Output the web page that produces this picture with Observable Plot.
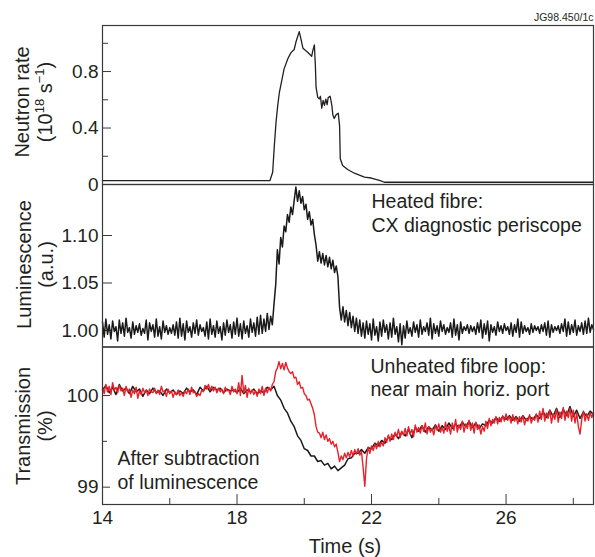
<!DOCTYPE html>
<html><head><meta charset="utf-8">
<script src="https://cdn.jsdelivr.net/npm/d3@7"></script>
<script src="https://cdn.jsdelivr.net/npm/@observablehq/plot@0.6"></script>
<style>
body{margin:0;background:#fff;}
#chart{position:relative;width:595px;height:557px;font-family:"Liberation Sans",Arial,sans-serif;}
#chart svg{position:absolute;left:0;overflow:visible;}
</style></head><body><div id="chart"></div>
<script>
// ---------- DATA ----------
const figId = "JG98.450/1c";
const timeDomain = [14, 28.6];
const timeMajorTicks = [14, 18, 22, 26];
const timeMinorTicks = [16, 20, 24, 28];
const timeTitle = "Time (s)";

// Panel 1: neutron rate (10^18 s^-1)
const neutronTime = [14.0, 18.98, 19.06, 19.11, 19.16, 19.21, 19.26, 19.33, 19.40, 19.51, 19.60, 19.70, 19.75, 19.85, 19.90, 19.96, 20.10, 20.22, 20.25, 20.30, 20.33, 20.35, 20.40, 20.45, 20.48, 20.52, 20.56, 20.60, 20.64, 20.68, 20.71, 20.77, 20.82, 20.85, 20.89, 20.95, 21.01, 21.05, 21.07, 21.14, 21.29, 21.49, 21.79, 21.99, 22.26, 22.38, 28.6];
const neutronRate = [0.028, 0.028, 0.087, 0.276, 0.441, 0.559, 0.653, 0.736, 0.819, 0.890, 0.932, 0.956, 1.007, 1.083, 1.031, 0.965, 0.937, 0.908, 0.945, 0.989, 0.842, 0.689, 0.617, 0.606, 0.625, 0.540, 0.595, 0.560, 0.605, 0.565, 0.615, 0.625, 0.560, 0.492, 0.468, 0.495, 0.505, 0.415, 0.182, 0.135, 0.106, 0.080, 0.052, 0.046, 0.028, 0.016, 0.016];
const neutronTicks = [0, 0.4, 0.8];
const neutronTickLabels = ["0", "0.4", "0.8"];
const neutronMinor = [0.2, 0.6, 1.0];
const neutronDomain = [0, 1.126];

// Panel 2: luminescence (a.u.), sampled every 0.05 s from 14.00 s
const lumStart = 14, lumStep = 0.05;
const luminescence = [
1.009,0.993,1.012,0.996,1.006,0.991,1.010,0.999,1.004,0.989,
1.011,0.997,1.008,0.994,1.013,0.998,1.003,0.992,1.009,0.996,
1.005,0.998,1.007,0.995,1.002,0.997,1.011,0.990,1.008,0.999,
1.006,0.993,1.012,0.994,1.004,0.991,1.010,0.998,1.005,0.996,
1.003,0.997,1.006,0.995,1.009,0.992,1.013,0.994,1.007,0.990,
1.010,0.998,1.004,0.993,1.008,0.997,1.011,0.995,1.006,0.999,
1.003,0.994,1.009,0.991,1.012,0.996,1.005,0.993,1.010,0.997,
1.004,0.990,1.008,0.995,1.011,0.998,1.006,0.992,1.009,0.996,
1.013,0.994,1.007,0.991,1.010,0.997,1.005,0.993,1.012,0.998,
1.008,0.994,1.014,0.996,1.016,0.997,1.012,0.999,1.018,1.001,
1.015,1.006,1.028,1.048,1.085,1.070,1.098,1.088,1.110,1.104,
1.122,1.114,1.130,1.122,1.137,1.151,1.136,1.147,1.134,1.141,
1.127,1.133,1.117,1.125,1.111,1.117,1.101,1.090,1.073,1.083,
1.071,1.081,1.069,1.079,1.067,1.077,1.065,1.074,1.061,1.068,
1.057,1.024,1.011,1.025,1.009,1.021,1.005,1.019,1.003,1.015,
0.999,1.013,0.997,1.011,0.994,1.008,
0.992,1.010,0.996,1.007,0.990,1.012,0.995,1.004,0.989,1.009,
0.994,1.011,0.998,1.006,0.991,1.008,0.993,1.013,0.996,1.004,
0.988,1.007,0.985,1.005,0.992,1.010,0.997,1.003,0.994,1.009,
0.998,1.006,0.993,1.011,0.996,1.004,0.999,1.008,0.995,1.013,
0.991,1.007,0.997,1.005,0.994,1.010,0.999,1.006,0.996,1.003,
0.998,1.008,0.993,1.012,0.995,1.006,0.990,1.009,0.997,1.004,
1.000,1.006,0.997,1.005,0.999,1.004,0.996,1.008,0.998,1.011,
0.992,1.007,0.996,1.010,0.989,1.006,0.998,1.004,0.995,1.009,
0.999,1.005,0.997,1.007,1.000,1.004,0.996,1.008,0.994,1.006,
0.998,1.012,0.993,1.009,0.997,1.005,0.999,1.003,0.996,1.007,
0.998,1.005,1.000,1.004,0.997,1.006,0.999,1.008,0.995,1.010,
0.993,1.006,0.998,1.004,1.000,1.005,0.997,1.007,0.999,1.012,
0.994,1.009,0.996,1.006,0.998,1.011,0.995,1.005,0.999,1.008,
0.996,1.010,0.997,1.013,0.998,1.006,1.001];
const lumTicks = [1.00, 1.05, 1.10];
const lumTickLabels = ["1.00", "1.05", "1.10"];
const lumDomain = [0.9826, 1.1537];

// Panel 3: transmission (%)
// red: unheated fibre loop, every 0.05 s from 14.00 s
const redStart = 14, redStep = 0.05;
const transRed = [
100.08,100.02,100.12,100.04,100.10,100.01,100.14,100.06,100.09,100.03,
100.11,100.05,100.08,100.00,100.10,100.04,100.07,99.98,100.06,100.02,
100.09,99.97,100.05,100.01,100.08,100.03,100.06,100.00,100.07,100.04,
100.03,100.08,100.02,100.06,100.01,100.10,100.04,100.05,99.99,100.07,
100.02,100.05,99.98,100.04,100.01,100.06,100.00,100.03,99.99,100.05,
100.02,100.07,100.01,100.09,100.03,100.04,99.99,100.02,100.00,100.06,
100.04,100.11,100.07,100.12,100.06,100.10,100.05,100.09,100.03,100.08,
100.04,100.07,100.02,100.09,100.05,100.06,100.01,100.10,100.04,100.07,
100.02,100.14,100.00,100.22,100.03,100.11,99.98,100.08,100.02,100.06,
100.01,100.05,99.99,100.07,100.02,100.10,100.00,100.08,100.03,100.09,
100.05,100.12,
100.15,100.26,100.30,100.37,100.29,100.35,100.28,100.36,
100.30,100.26,100.24,100.26,100.19,100.20,100.12,100.15,100.08,100.09,
100.02,100.00,99.95,99.96,99.91,99.86,99.79,99.66,99.60,99.59,
99.54,99.60,99.52,99.57,99.50,99.53,99.47,99.50,99.44,99.47,
99.38,99.28,99.34,99.30,99.37,99.32,99.38,99.33,99.40,99.34,
99.41,99.36,99.42,99.35,99.39,99.21,99.01,99.31,99.44,99.37,
99.45,99.40,99.47,99.42,99.50,99.44,99.49,99.45,99.54,99.49,
99.57,99.50,99.58,99.52,99.60,99.55,99.63,99.54,99.61,99.57,
99.64,99.56,99.66,99.58,99.63,99.55,99.68,99.60,99.65,99.59,
99.67,99.61,99.70,99.58,99.66,99.60,99.64,99.57,99.67,99.62,
99.69,99.60,99.65,99.59,99.71,99.61,99.67,99.58,99.70,99.62,
99.74,99.60,99.68,99.63,99.72,99.60,99.69,99.64,99.73,99.62,
99.70,99.59,99.71,99.63,99.68,99.58,99.66,99.61,99.72,99.64,
99.75,99.67,99.74,99.70,99.77,99.69,99.76,99.71,99.78,99.72,
99.80,99.73,99.77,99.70,99.79,99.72,99.76,99.69,99.77,99.71,
99.78,99.68,99.75,99.72,99.79,99.70,99.76,99.73,99.80,99.71,
99.83,99.74,99.86,99.72,99.81,99.75,99.84,99.70,99.80,99.74,
99.85,99.71,99.82,99.75,99.87,99.73,99.83,99.76,99.86,99.72,
99.84,99.70,99.81,99.66,99.58,99.74,99.83,99.72,99.80,99.73,
99.81,99.76,99.82];
// black: after subtraction of luminescence, every 0.1 s from 14.0 s
const blackStart = 14, blackStep = 0.1;
const transBlack = [
100.06,100.11,100.03,100.09,100.01,100.12,100.05,100.08,100.02,100.10,
100.04,100.07,99.99,100.06,100.02,100.08,100.03,100.05,100.00,100.07,
100.03,100.06,100.01,100.05,100.02,100.08,100.04,100.06,100.01,100.09,
100.05,100.10,100.04,100.09,100.06,100.08,100.03,100.07,100.05,100.06,
100.03,100.08,100.02,100.06,100.04,100.07,100.02,100.05,100.03,100.09,
100.06,100.10,100.00,99.95,99.86,99.81,99.72,99.66,99.56,99.51,
99.42,99.40,99.34,99.34,99.28,99.29,99.24,99.26,99.20,99.23,
99.18,99.21,99.24,99.31,99.32,99.37,99.37,99.41,99.37,99.43,
99.42,99.48,99.45,99.51,99.48,99.55,99.52,99.58,99.53,99.60,
99.56,99.63,99.54,99.65,99.61,99.67,99.60,99.66,99.62,99.68,
99.61,99.67,99.63,99.70,99.64,99.69,99.65,99.71,99.66,99.72,
99.65,99.70,99.64,99.69,99.67,99.73,99.70,99.76,99.72,99.77,
99.74,99.78,99.73,99.77,99.72,99.78,99.73,99.77,99.74,99.79,
99.75,99.82,99.76,99.84,99.77,99.86,99.76,99.85,99.78,99.88,
99.77,99.84,99.75,99.82,99.77,99.83,99.79];
const transTicks = [99, 100];
const transTickLabels = ["99", "100"];
const transMinor = [99.5];
const transDomain = [98.811, 100.529];

const lumNote = ["Heated fibre:", "CX diagnostic periscope"];
const transNote = ["Unheated fibre loop:", "near main horiz. port"];
const subNote = ["After subtraction", "of luminescence"];

// ---------- DRAWING ----------
const chart = document.getElementById("chart");
const INK = "#231f20", FRAME = "#3a3a3a", RED = "#e8202a";
const FONT = '"Liberation Sans", Arial, sans-serif';
const baseStyle = {fontFamily: FONT, fontSize: "19px", color: INK, background: "transparent", overflow: "visible"};

function yAxes(major, labels, minor, majorLen, minorLen) {
  const m = [
    Plot.axisY(major, {anchor: "left", tickSize: -majorLen, tickFormat: () => "", label: null, stroke: FRAME}),
    Plot.axisY(major, {anchor: "left", tickSize: 0, tickPadding: 4, label: null, fontSize: 19, fill: INK,
      tickFormat: d => labels[major.indexOf(d)]})
  ];
  if (minor) m.push(Plot.axisY(minor, {anchor: "left", tickSize: -minorLen, tickFormat: () => "", label: null, stroke: FRAME}));
  return m;
}
function note(lines, dx, dy) {
  return Plot.text([lines.join("\n")], {text: d => d, frameAnchor: "top-left", textAnchor: "start", lineAnchor: "top",
    dx, dy, fontSize: 19.5, lineHeight: 1.2, fill: INK});
}
function place(svg, top) { svg.style.top = top + "px"; chart.appendChild(svg); }

// Panel 1
place(Plot.plot({
  width: 595, height: 184, marginLeft: 102, marginRight: 2, marginTop: 25, marginBottom: 0,
  style: baseStyle,
  x: {domain: timeDomain, axis: null},
  y: {domain: neutronDomain},
  marks: [
    ...yAxes(neutronTicks, neutronTickLabels, neutronMinor, 9, 6),
    Plot.line(neutronRate, {x: (d, i) => neutronTime[i], y: d => d, stroke: INK, strokeWidth: 1.3}),
    Plot.frame({stroke: FRAME, strokeWidth: 1.2}),
    Plot.text([figId], {text: d => d, frameAnchor: "top-right", textAnchor: "end", lineAnchor: "top", dy: -11.5, fontSize: 10.5, fill: INK})
  ]
}), 0);

// Panel 2
place(Plot.plot({
  width: 595, height: 177, marginLeft: 102, marginRight: 2, marginTop: 14, marginBottom: 0.5,
  style: baseStyle,
  x: {domain: timeDomain, axis: null},
  y: {domain: lumDomain},
  marks: [
    ...yAxes(lumTicks, lumTickLabels, null, 10, 0),
    Plot.line(luminescence, {x: (d, i) => lumStart + i * lumStep, y: d => d, stroke: "#1a1a1a", strokeWidth: 1.5}),
    Plot.frame({stroke: FRAME, strokeWidth: 1.2}),
    note(lumNote, 269, 7)
  ]
}), 170);

// Panel 3
place(Plot.plot({
  width: 595, height: 227, marginLeft: 102, marginRight: 2, marginTop: 16.5, marginBottom: 53,
  style: baseStyle,
  x: {domain: timeDomain},
  y: {domain: transDomain},
  marks: [
    ...yAxes(transTicks, transTickLabels, transMinor, 8, 5),
    Plot.axisX(timeMajorTicks, {anchor: "bottom", tickSize: -10, tickFormat: () => "", label: null, stroke: FRAME}),
    Plot.axisX(timeMinorTicks, {anchor: "bottom", tickSize: -6, tickFormat: () => "", label: null, stroke: FRAME}),
    Plot.axisX(timeMajorTicks, {anchor: "bottom", tickSize: 0, tickPadding: 6, label: null, fontSize: 19, fill: INK,
      tickFormat: d => String(d)}),
    Plot.line(transBlack, {x: (d, i) => blackStart + i * blackStep, y: d => d, stroke: "#1a1a1a", strokeWidth: 1.5}),
    Plot.line(transRed, {x: (d, i) => redStart + i * redStep, y: d => d, stroke: RED, strokeWidth: 1.4}),
    Plot.frame({stroke: FRAME, strokeWidth: 1.2}),
    note(transNote, 268, 9),
    note(subNote, 15, 101.5)
  ]
}), 330);

// Axis titles (overlay)
const ov = d3.create("svg").attr("width", 595).attr("height", 557).style("top", "0px")
  .attr("font-family", FONT).attr("font-size", 20).attr("fill", INK);
function vtitle(x, y, build) {
  const t = ov.append("text").attr("transform", `translate(${x},${y}) rotate(-90)`).attr("text-anchor", "middle");
  build(t);
}
vtitle(29, 102, t => t.text("Neutron rate"));
vtitle(52, 102, t => {
  t.append("tspan").text("(10");
  t.append("tspan").attr("dy", -8).attr("font-size", 13).text("18");
  t.append("tspan").attr("dy", 8).text(" s");
  t.append("tspan").attr("dy", -8).attr("font-size", 13).text("\u22121");
  t.append("tspan").attr("dy", 8).text(")");
});
vtitle(31, 264.5, t => t.text("Luminescence"));
vtitle(52.5, 264.5, t => t.text("(a.u.)"));
vtitle(29.5, 426, t => t.text("Transmission"));
vtitle(52, 426, t => t.text("(%)"));
ov.append("text").attr("x", 345).attr("y", 553).attr("text-anchor", "middle").text(timeTitle);
chart.appendChild(ov.node());
</script></body></html>
